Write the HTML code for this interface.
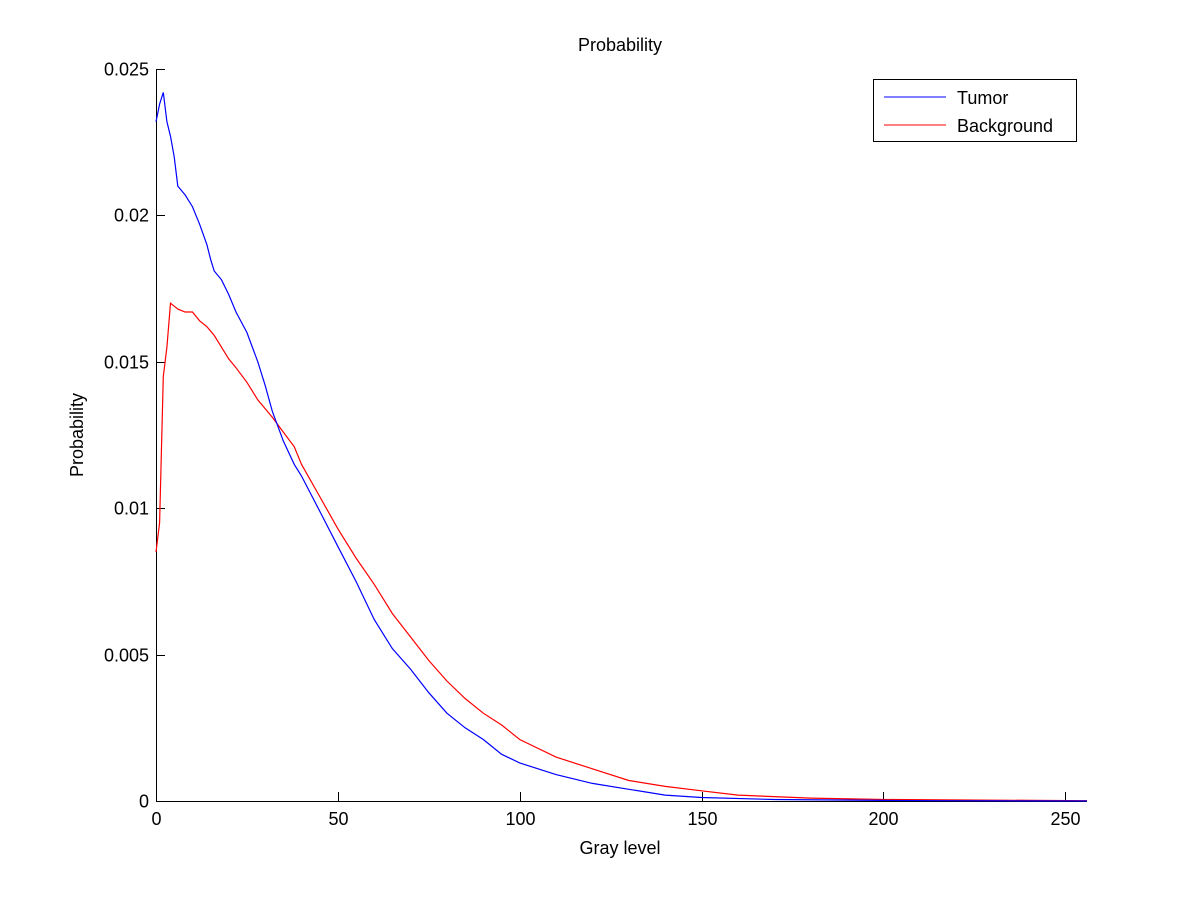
<!DOCTYPE html>
<html><head><meta charset="utf-8"><style>
body{margin:0;background:#fff;}
svg text{font-family:"Liberation Sans",sans-serif;}
</style></head><body>
<svg id="chart" width="1200" height="900" xmlns="http://www.w3.org/2000/svg">
<rect width="1200" height="900" fill="#fff"/>
<g id="axes"></g>
<g id="series"></g>
<text x="620" y="51" font-size="18" text-anchor="middle">Probability</text>
<text x="620" y="854" font-size="18" text-anchor="middle">Gray level</text>
<text x="83" y="435" font-size="18" text-anchor="middle" transform="rotate(-90 83 435)">Probability</text>
<g>
<rect x="873.5" y="79.5" width="203" height="62" fill="#fff" stroke="#000"/>
<line x1="884" y1="97" x2="946" y2="97" stroke="#0000ff"/>
<text x="957" y="104" font-size="18">Tumor</text>
<line x1="884" y1="125" x2="946" y2="125" stroke="#ff0000"/>
<text x="957" y="132" font-size="18">Background</text>
</g>
</svg>
<script>
const tumorX=[0,1,2,3,4,5,6,8,10,12,14,15,16,18,20,22,25,28,30,32,35,38,40,45,50,55,60,65,70,75,80,85,90,95,100,110,120,130,140,150,170,200,215,256];
const tumorY=[0.0232,0.0238,0.0242,0.0232,0.0227,0.022,0.021,0.0207,0.0203,0.0197,0.019,0.0185,0.0181,0.0178,0.0173,0.0167,0.016,0.015,0.0142,0.0133,0.0123,0.0115,0.0111,0.0099,0.0087,0.0075,0.0062,0.0052,0.0045,0.0037,0.003,0.0025,0.0021,0.0016,0.0013,0.0009,0.0006,0.0004,0.0002,0.00012,0.00005,0.00002,0.00001,0];
const bgX=[0,1,2,3,4,5,6,8,10,12,14,16,18,20,22,25,28,30,32,35,38,40,45,50,55,60,65,70,75,80,85,90,95,100,110,120,130,140,150,160,180,200,256];
const bgY=[0.0085,0.0095,0.0145,0.0155,0.017,0.0169,0.0168,0.0167,0.0167,0.0164,0.0162,0.0159,0.0155,0.0151,0.0148,0.0143,0.0137,0.0134,0.0131,0.0126,0.0121,0.0115,0.0104,0.0093,0.0083,0.0074,0.0064,0.0056,0.0048,0.0041,0.0035,0.003,0.0026,0.0021,0.0015,0.0011,0.0007,0.0005,0.00035,0.0002,0.0001,0.00005,0.00001];
const xTicks=[0,50,100,150,200,250];
const yTicks=[0,0.005,0.01,0.015,0.02,0.025];
const yTickLabels=["0","0.005","0.01","0.015","0.02","0.025"];

const L=156,R=1087,T=69,B=801,XMAX=256,YMAX=0.025;
const sx=v=>L+v/XMAX*(R-L);
const sy=v=>B-v/YMAX*(B-T);
const NS="http://www.w3.org/2000/svg";
const axes=document.getElementById('axes');
const series=document.getElementById('series');
function mk(tag,attrs,parent){const e=document.createElementNS(NS,tag);for(const k in attrs)e.setAttribute(k,attrs[k]);parent.appendChild(e);return e;}

const xa=mk('line',{x1:L,y1:B+0.5,x2:R,y2:B+0.5,stroke:'#000'},axes);


const ya=mk('line',{x1:L+0.5,y1:T,x2:L+0.5,y2:B,stroke:'#000'},axes);



xTicks.forEach(v=>{
  const x=Math.round(sx(v))+0.5;
  const t=mk('line',{x1:x,y1:B,x2:x,y2:B-9,stroke:'#000'},axes);
  
  
  const lb=mk('text',{x:x,y:B+24,'font-size':18,'text-anchor':'middle'},axes);
  lb.textContent=v;
  
  
});
yTicks.forEach((v,i)=>{
  const y=Math.round(sy(v))+0.5;
  const t=mk('line',{x1:L,y1:y,x2:L+9,y2:y,stroke:'#000'},axes);
  
  
  const lb=mk('text',{x:L-7,y:y+6,'font-size':18,'text-anchor':'end'},axes);
  lb.textContent=yTickLabels[i];
  
  
});

function line(xs,ys,color,name){
  const d=xs.map((x,i)=>(i?'L':'M')+sx(x).toFixed(1)+','+sy(ys[i]).toFixed(1)).join(' ');
  const p=mk('path',{d:d,fill:'none',stroke:color,'stroke-width':1.2},series);
  
  
}
line(bgX,bgY,'#ff0000','background-line');
line(tumorX,tumorY,'#0000ff','tumor-line');
</script>
</body></html>
